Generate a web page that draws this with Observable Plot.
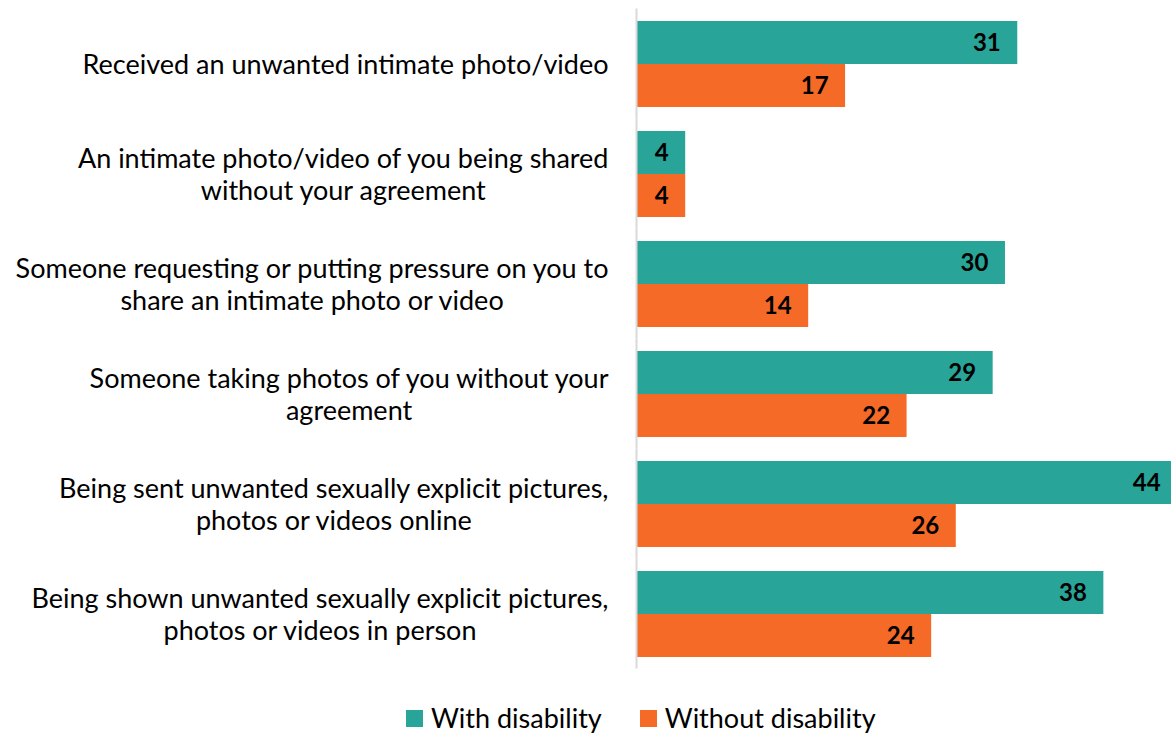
<!DOCTYPE html>
<html>
<head>
<meta charset="utf-8">
<script src="https://cdn.jsdelivr.net/npm/d3@7"></script>
<script src="https://cdn.jsdelivr.net/npm/@observablehq/plot@0.6"></script>
<style>
  body { margin: 0; background: #fff; font-family: Lato, "Open Sans", sans-serif; }
  #legend { display: flex; align-items: center; margin-left: 406px; margin-top: 13px; font-size: 27px; color: #000; line-height: 30px; }
  .item { display: flex; align-items: center; margin-right: 38px; }
  .sw { width: 17px; height: 17px; margin-right: 8px; display: inline-block; }
</style>
</head>
<body>
<div id="chart"></div>
<div id="legend"></div>
<script>
const categories = [
  "Received an unwanted intimate photo/video",
  "An intimate photo/video of you being shared\nwithout your agreement",
  "Someone requesting or putting pressure on you to\nshare an intimate photo or video",
  "Someone taking photos of you without your\nagreement",
  "Being sent unwanted sexually explicit pictures,\nphotos or videos online",
  "Being shown unwanted sexually explicit pictures,\nphotos or videos in person"
];
const series = ["With disability", "Without disability"];
const withDisability = [31, 4, 30, 29, 44, 38];
const withoutDisability = [17, 4, 14, 22, 26, 24];
const colors = ["#28A499", "#F46A26"];

const data = [];
categories.forEach((c, i) => {
  data.push({category: c, series: series[0], value: withDisability[i]});
  data.push({category: c, series: series[1], value: withoutDisability[i]});
});

const plot = Plot.plot({
  width: 1171,
  height: 690,
  marginLeft: 636,
  marginRight: 0,
  marginTop: 8,
  marginBottom: 22,
  style: {fontFamily: "Lato, 'Open Sans', sans-serif", color: "#000", background: "#fff"},
  x: {domain: [0, 43.5], axis: null},
  y: {domain: series, axis: null, padding: 0},
  fy: {domain: categories, paddingInner: 0.21, paddingOuter: 0.105, label: null},
  color: {domain: series, range: colors},
  marks: [
    Plot.axisFy({anchor: "left", tickSize: 0, tickPadding: 28, fontSize: 27, lineHeight: 1.185, label: null, textOverflow: null, lineWidth: Infinity}),
    Plot.barX(data, {fy: "category", y: "series", x: "value", fill: "series"}),
    Plot.ruleX([0], {stroke: "#d9d9d9", strokeWidth: 2, insetTop: -11.5, insetBottom: -11.5}),
    Plot.text(data, {fy: "category", y: "series", x: "value", text: d => String(d.value), textAnchor: "end", dx: -17, fontSize: 24, fontWeight: "bold", fill: "#000"})
  ]
});
document.getElementById("chart").appendChild(plot);

// center multi-line category labels within their block (right-aligned block)
d3.select(plot).selectAll('g[aria-label="fy-axis tick label"] text').each(function() {
  const tspans = this.querySelectorAll("tspan");
  if (tspans.length < 2) return;
  let maxW = 0;
  tspans.forEach(t => { maxW = Math.max(maxW, t.getComputedTextLength()); });
  this.setAttribute("text-anchor", "middle");
  tspans.forEach(t => t.setAttribute("x", -maxW / 2));
});

const legend = d3.select("#legend");
series.forEach((s, i) => {
  const item = legend.append("div").attr("class", "item");
  item.append("span").attr("class", "sw").style("background", colors[i]);
  item.append("span").text(s);
});
</script>
</body>
</html>
